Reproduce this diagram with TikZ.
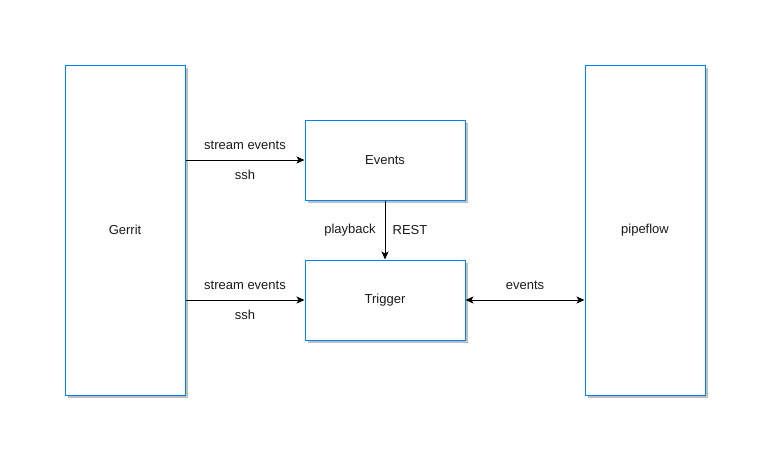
\documentclass[tikz,border=0pt]{standalone}
\usepackage{fontspec}
\setmainfont{Liberation Sans}
\usetikzlibrary{arrows.meta,shadows}
\definecolor{boxblue}{HTML}{007FFF}
\definecolor{txt}{HTML}{1A1A1A}
\tikzset{
  box/.style={draw=boxblue, line width=1pt, fill=white, inner sep=0pt, text=txt,
    drop shadow={shadow xshift=3pt, shadow yshift=-3pt, fill=black!25, opacity=1},
    font=\fontsize{13}{15}\selectfont},
  lbl/.style={font=\fontsize{13}{15}\selectfont, inner sep=1pt, text=txt},
  conn/.style={line width=1pt, -{Stealth[length=8pt,width=7pt,inset=2pt]}},
  conn2/.style={line width=1pt, {Stealth[length=8pt,width=7pt,inset=2pt]}-{Stealth[length=8pt,width=7pt,inset=2pt]}}
}
\begin{document}
\begin{tikzpicture}[x=1pt,y=-1pt]
\useasboundingbox (0,0) rectangle (771,461);
\node[box, minimum width=120pt, minimum height=330pt] (gerrit) at (125,230) {Gerrit};
\node[box, minimum width=120pt, minimum height=330pt] (pipe) at (645,230) {pipeflow};
\node[box, minimum width=160pt, minimum height=80pt] (events) at (385,160) {Events};
\node[box, minimum width=160pt, minimum height=80pt] (trigger) at (385,300) {Trigger};
\draw[conn] (gerrit.east |- events.west) -- (events.west);
\draw[conn] (gerrit.east |- trigger.west) -- (trigger.west);
\draw[conn] (events.south) -- (trigger.north);
\draw[conn2] (trigger.east) -- (pipe.west |- trigger.east);
\node[lbl] (l1) at (245,145) {stream events};
\node[lbl] (l2) at (245,175) {ssh};
\node[lbl] (l3) at (245,285) {stream events};
\node[lbl] (l4) at (245,315) {ssh};
\node[lbl] (l5) at (350,230) {playback};
\node[lbl] (l6) at (410,230) {REST};
\node[lbl] (l7) at (525,285) {events};
\end{tikzpicture}
\end{document}
